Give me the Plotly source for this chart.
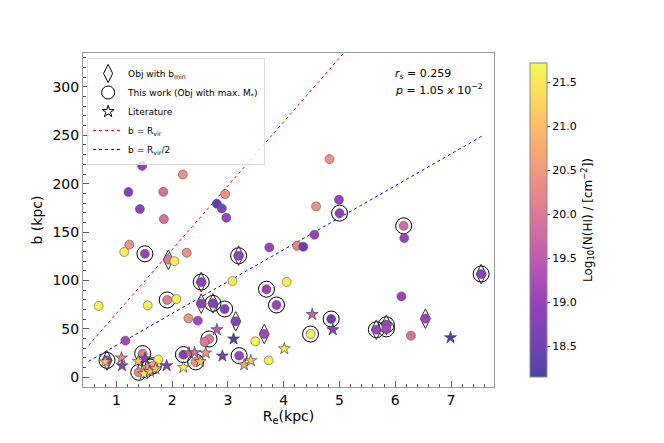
import numpy as np
import plotly.graph_objects as go
import plotly.express as px

# objects from this work: R_e (kpc), impact parameter b (kpc), log N(HI)
obj_re = [1.46, 2.19, 1.215, 1.84, 2.95, 2.80, 2.89, 1.42, 2.97, 1.85,
          1.23, 1.14, 1.51, 2.26, 1.93, 2.04, 3.19, 2.52, 3.08, 4.82,
          4.58, 4.99, 5.00, 4.55, 3.74, 4.24, 4.35, 4.05, 3.69, 6.15,
          6.16, 7.54, 0.68, 1.56, 1.91, 2.075, 3.87, 2.52, 2.73, 2.94,
          3.14, 2.29, 2.46, 3.65, 3.49, 3.73, 2.66, 2.58, 1.16, 0.83,
          1.47, 1.75, 1.40, 1.52, 1.60, 1.66, 2.20, 2.42, 3.20, 4.48,
          4.85, 5.66, 5.84, 5.84, 6.11, 6.28, 6.54]
obj_b = [218.4, 209.5, 191.3, 191.6, 189.3, 179.3, 174.4, 173.8, 164.8, 163.5,
         137.0, 129.4, 127.6, 128.7, 121.5, 120.0, 125.6, 98.4, 99.5, 225.4,
         176.5, 183.4, 169.6, 147.3, 134.2, 135.9, 134.9, 98.5, 91.0, 156.5,
         143.8, 106.7, 73.7, 74.3, 79.9, 80.9, 74.7, 76.1, 76.4, 70.6,
         57.8, 60.9, 58.5, 44.8, 37.2, 17.5, 39.6, 36.5, 37.9, 17.5,
         24.5, 18.3, 5.2, 8.0, 10.7, 12.0, 23.4, 15.9, 22.4, 44.7,
         60.2, 49.2, 54.3, 50.0, 83.6, 43.0, 60.6]
obj_nhi = [18.9, 20.4, 18.7, 19.9, 20.4, 18.3, 18.7, 18.9, 19.0, 19.9,
           20.4, 21.6, 19.0, 20.4, 20.0, 21.6, 19.0, 18.9, 21.6, 20.4,
           20.4, 19.0, 18.9, 19.0, 19.0, 20.2, 18.4, 21.6, 19.0, 19.8,
           19.0, 18.9, 21.6, 21.6, 20.1, 21.6, 19.0, 18.9, 18.8, 18.7,
           18.8, 20.4, 19.1, 19.1, 21.6, 21.6, 20.0, 20.0, 19.1, 19.0,
           20.1, 21.6, 20.2, 20.4, 20.5, 20.6, 18.8, 20.4, 19.0, 21.6,
           18.4, 19.0, 19.0, 19.1, 19.0, 19.9, 19.0]
# 1 = object with max. stellar mass (ringed)
obj_maxm = [0, 0, 0, 0, 0, 0, 0, 0, 0, 0,
            0, 0, 1, 0, 0, 0, 1, 1, 0, 0,
            0, 0, 1, 0, 0, 0, 0, 0, 1, 1,
            0, 1, 0, 0, 1, 0, 1, 0, 1, 1,
            0, 0, 0, 0, 0, 0, 1, 0, 0, 1,
            1, 0, 1, 1, 1, 1, 1, 1, 1, 1,
            1, 1, 1, 1, 0, 0, 0]
# 1 = object with b_min (diamond)
obj_bmin = [0, 0, 0, 0, 0, 0, 0, 0, 0, 0,
            0, 0, 0, 0, 1, 0, 1, 1, 0, 0,
            0, 0, 0, 0, 0, 0, 0, 0, 0, 0,
            0, 1, 0, 0, 0, 0, 0, 1, 1, 0,
            1, 0, 0, 1, 0, 0, 0, 0, 0, 1,
            0, 0, 0, 0, 0, 0, 0, 0, 0, 0,
            0, 1, 1, 0, 0, 0, 1]

# literature sample
lit_re = [2.80, 3.10, 4.01, 0.80, 1.09, 1.10, 1.39, 1.51, 1.49, 1.60, 1.70, 1.90,
          2.20, 2.30, 2.40, 2.50, 2.60, 2.90, 3.29, 3.41, 4.51, 4.88, 6.99]
lit_b = [49.2, 39.6, 29.6, 16.0, 20.0, 12.0, 16.5, 19.3, 3.5, 6.0, 9.0, 12.0,
         10.3, 25.2, 25.5, 16.2, 25.2, 22.0, 12.8, 17.2, 65.0, 49.2, 41.0]
lit_nhi = [19.5, 18.2, 21.6, 21.0, 20.2, 18.8, 21.0, 18.8, 21.5, 21.0, 21.0, 18.8,
           21.6, 19.7, 19.8, 21.0, 20.5, 18.6, 20.7, 21.0, 19.6, 18.9, 18.2]

# virial radius lines (end points)
rvir_re = [0.5, 5.5]
rvir_b = [33, 363]
rvir2_re = [0.5, 7.55]
rvir2_b = [16.5, 249]

cmin, cmax = 18.15, 21.72


def faded_plasma(alpha=0.75):
    scale = []
    cols = px.colors.sequential.Plasma
    for i, c in enumerate(cols):
        r, g, b = px.colors.hex_to_rgb(c)
        r = round(r * alpha + 255 * (1 - alpha))
        g = round(g * alpha + 255 * (1 - alpha))
        b = round(b * alpha + 255 * (1 - alpha))
        scale.append([i / (len(cols) - 1), f"rgb({r},{g},{b})"])
    return scale


cscale = faded_plasma()

re_arr = np.array(obj_re)
b_arr = np.array(obj_b)
maxm = np.array(obj_maxm, dtype=bool)
bmin = np.array(obj_bmin, dtype=bool)

fig = go.Figure()

# legend handles
fig.add_trace(go.Scatter(x=[None], y=[None], mode="markers", name="Obj with b<sub>min</sub>",
                         marker=dict(symbol="diamond-tall-open", size=13, color="black")))
fig.add_trace(go.Scatter(x=[None], y=[None], mode="markers", name="This work (Obj with max. M<sub>*</sub>)",
                         marker=dict(symbol="circle-open", size=13, color="black")))
fig.add_trace(go.Scatter(x=[None], y=[None], mode="markers", name="Literature",
                         marker=dict(symbol="star-open", size=9, color="black")))

fig.add_trace(go.Scatter(x=rvir_re, y=rvir_b, mode="lines", name="b = R<sub>vir</sub>",
                         line=dict(color="red", width=1, dash="dot")))
fig.add_trace(go.Scatter(x=rvir2_re, y=rvir2_b, mode="lines", name="b = R<sub>vir</sub>/2",
                         line=dict(color="blue", width=1, dash="dot")))

# rings and diamonds
fig.add_trace(go.Scatter(x=re_arr[maxm], y=b_arr[maxm], mode="markers", showlegend=False,
                         marker=dict(symbol="circle-open", size=16, color="black", line=dict(width=1))))
fig.add_trace(go.Scatter(x=re_arr[bmin], y=b_arr[bmin], mode="markers", showlegend=False,
                         marker=dict(symbol="diamond-tall-open", size=14, color="#333", line=dict(width=1))))

fig.add_trace(go.Scatter(x=obj_re, y=obj_b, mode="markers", showlegend=False,
                         marker=dict(symbol="circle", size=9, color=obj_nhi, colorscale=cscale,
                                     cmin=cmin, cmax=cmax, line=dict(color="#555", width=0.6),
                                     colorbar=dict(
                                         x=1.063, xanchor="left", y=0.5, len=1.0, thickness=17,
                                         outlinecolor="#888", outlinewidth=1,
                                         tickvals=[18.5, 19.0, 19.5, 20.0, 20.5, 21.0, 21.5],
                                         ticktext=["18.5", "19.0", "19.5", "20.0", "20.5", "21.0", "21.5"],
                                         ticks="outside", ticklen=3,
                                         tickfont=dict(size=11, color="black"),
                                         title=dict(text="Log<sub>10</sub>(N(HI) / [cm<sup>−2</sup>])",
                                                    side="right", font=dict(size=12, color="black"))))))

fig.add_trace(go.Scatter(x=lit_re, y=lit_b, mode="markers", showlegend=False,
                         marker=dict(symbol="star", size=9, color=lit_nhi, colorscale=cscale,
                                     cmin=cmin, cmax=cmax, line=dict(color="#333", width=0.6))))

fig.add_annotation(x=0.754, y=0.937, xref="paper", yref="paper", xanchor="left", yanchor="middle",
                   showarrow=False, text="<i>r<sub>s</sub></i> = 0.259", font=dict(size=11, color="black"))
fig.add_annotation(x=0.754, y=0.892, xref="paper", yref="paper", xanchor="left", yanchor="middle",
                   showarrow=False, text="<i>p</i> = 1.05 <i>x</i> 10<sup>−2</sup>", font=dict(size=11, color="black"))

axis_common = dict(showline=True, linecolor="#999", linewidth=1, mirror=True, showgrid=False,
                   zeroline=False, ticks="inside", ticklen=6, tickcolor="#555",
                   tickfont=dict(size=14, color="black"))

fig.update_xaxes(range=[0.4, 7.77], dtick=1, tick0=0,
                 minor=dict(ticks="inside", ticklen=3, dtick=0.2, tickcolor="#555"),
                 title=dict(text="R<sub>e</sub>(kpc)", font=dict(size=14, color="black"), standoff=2),
                 **axis_common)
fig.update_yaxes(range=[-10, 335], dtick=50, tick0=0,
                 minor=dict(ticks="inside", ticklen=3, dtick=10, tickcolor="#555"),
                 title=dict(text="b (kpc)", font=dict(size=14, color="black"), standoff=6),
                 **axis_common)

fig.update_layout(
    width=648, height=427,
    margin=dict(l=75, r=162, t=45, b=48),
    paper_bgcolor="white", plot_bgcolor="white",
    font=dict(family="DejaVu Sans", color="black"),
    legend=dict(x=0.01, y=0.985, xanchor="left", yanchor="top",
                bgcolor="rgba(255,255,255,0.8)", bordercolor="#ddd", borderwidth=1,
                font=dict(size=9, color="black"), tracegroupgap=0, itemwidth=30,
                traceorder="normal"),
)

fig.write_html("out.html")
